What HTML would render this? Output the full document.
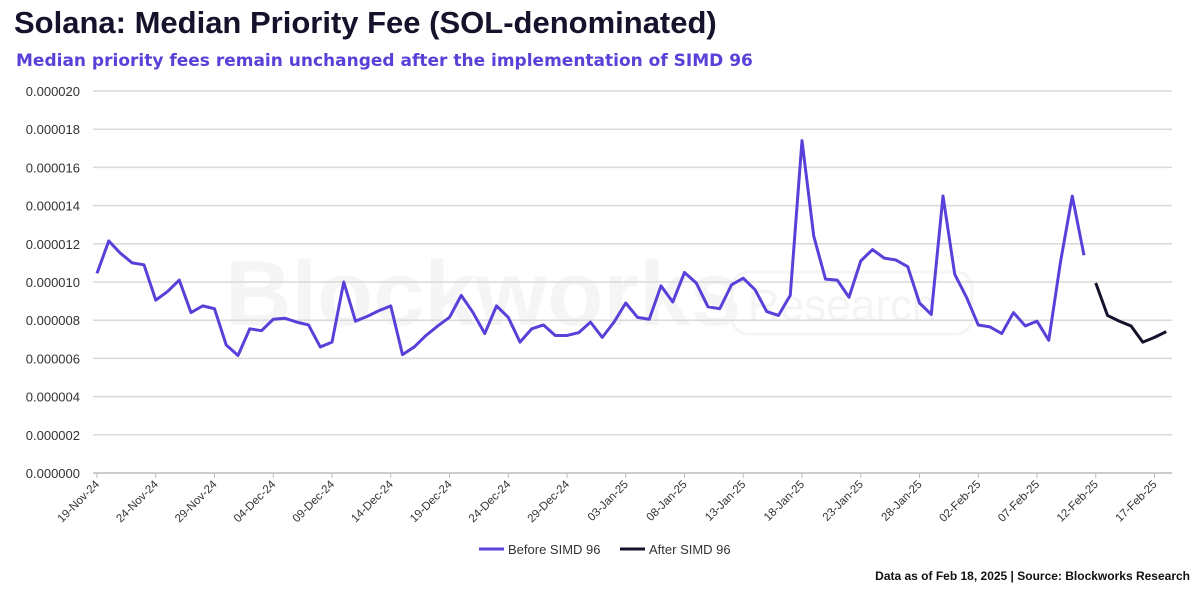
<!DOCTYPE html>
<html><head><meta charset="utf-8"><style>
body{margin:0;background:#fff;font-family:"Liberation Sans","DejaVu Sans",sans-serif;}
#wrap{position:relative;width:1200px;height:594px;overflow:hidden;}
#title{position:absolute;left:14px;top:5px;font-size:31px;font-weight:bold;color:#15132b;font-family:"Liberation Sans",sans-serif;}
#sub{position:absolute;left:16px;top:51px;font-size:17px;font-weight:bold;color:#5a3fd8;font-family:"DejaVu Sans","Liberation Sans",sans-serif;}
#foot{position:absolute;right:10px;top:569px;font-size:12px;font-weight:bold;color:#111;}
</style></head><body>
<div id="wrap">
<div id="title">Solana: Median Priority Fee (SOL-denominated)</div>
<div id="sub">Median priority fees remain unchanged after the implementation of SIMD 96</div>
<svg id="svg" width="1200" height="594" style="position:absolute;left:0;top:0"></svg>
<div id="foot">Data as of Feb 18, 2025 | Source: Blockworks Research</div>
</div>
<script>
const beforeValues=[10.45,12.15,11.5,11.0,10.9,9.05,9.5,10.1,8.4,8.75,8.6,6.7,6.15,7.55,7.45,8.05,8.1,7.9,7.75,6.6,6.85,10.0,7.95,8.2,8.5,8.75,6.2,6.6,7.2,7.7,8.15,9.3,8.4,7.3,8.75,8.15,6.85,7.55,7.75,7.2,7.2,7.35,7.9,7.1,7.9,8.9,8.15,8.05,9.8,8.95,10.5,9.95,8.7,8.6,9.85,10.2,9.6,8.45,8.25,9.3,17.4,12.4,10.15,10.1,9.2,11.1,11.7,11.25,11.15,10.8,8.9,8.3,14.5,10.4,9.2,7.75,7.65,7.3,8.4,7.7,7.95,6.95,11.05,14.5,11.4];
const afterValues=[9.95,8.25,7.95,7.7,6.85,7.1,7.4];
const afterStartDay=85;
const yTicks=[0,2,4,6,8,10,12,14,16,18,20];
const xTickLabels=["19-Nov-24","24-Nov-24","29-Nov-24","04-Dec-24","09-Dec-24","14-Dec-24","19-Dec-24","24-Dec-24","29-Dec-24","03-Jan-25","08-Jan-25","13-Jan-25","18-Jan-25","23-Jan-25","28-Jan-25","02-Feb-25","07-Feb-25","12-Feb-25","17-Feb-25"];
const NS="http://www.w3.org/2000/svg";
const svg=document.getElementById('svg');
const X0=93,X1=1172,Y0=473,Y1=91;
const x=d=>97+d*11.75;
const y=v=>Y0-(v/20)*(Y0-Y1);
function mk(t,a){const e=document.createElementNS(NS,t);for(const k in a)e.setAttribute(k,a[k]);svg.appendChild(e);return e;}
let wm=mk('text',{x:225,y:325,'font-size':92,'font-weight':'bold',fill:'#f5f5f6','font-family':'Liberation Sans,sans-serif'});wm.textContent='Blockworks';


let wr=mk('rect',{x:732,y:272,width:240,height:62,rx:16,fill:'none',stroke:'#f5f5f6','stroke-width':3});


let wt=mk('text',{x:748,y:320,'font-size':44,fill:'#f4f4f5','font-family':'Liberation Sans,sans-serif'});wt.textContent='Research';


yTicks.forEach(v=>{
 const g=mk('line',{x1:X0,x2:X1,y1:y(v),y2:y(v),stroke:v===0?'#bbb':'#d9d9d9','stroke-width':1.5});
 
 
 const t=mk('text',{x:80,y:y(v)+5,'text-anchor':'end','font-size':13,fill:'#333'});
 t.textContent=(v/1e6).toFixed(6);
 
 
});
xTickLabels.forEach((l,i)=>{
 const xx=x(i*5);
 const tk=mk('line',{x1:xx,x2:xx,y1:Y0,y2:Y0+5,stroke:'#bbb'});
 
 
 const t=mk('text',{x:xx+3,y:Y0+12,'text-anchor':'end','font-size':11.5,fill:'#333',transform:`rotate(-45 ${xx+3} ${Y0+12})`});
 t.textContent=l;
 
 
});
const p1=mk('polyline',{points:beforeValues.map((v,i)=>x(i)+','+y(v)).join(' '),fill:'none',stroke:'#5b3fd9','stroke-width':3,'stroke-linejoin':'round'});


const p2=mk('polyline',{points:afterValues.map((v,i)=>x(afterStartDay+i)+','+y(v)).join(' '),fill:'none',stroke:'#15132b','stroke-width':3,'stroke-linejoin':'round'});


const l1=mk('line',{x1:479,x2:504,y1:549,y2:549,stroke:'#5b3fd9','stroke-width':3});


const lt1=mk('text',{x:508,y:554,'font-size':13,fill:'#333'});lt1.textContent='Before SIMD 96';


const l2=mk('line',{x1:620,x2:645,y1:549,y2:549,stroke:'#15132b','stroke-width':3});


const lt2=mk('text',{x:649,y:554,'font-size':13,fill:'#333'});lt2.textContent='After SIMD 96';


</script>
</body></html>
